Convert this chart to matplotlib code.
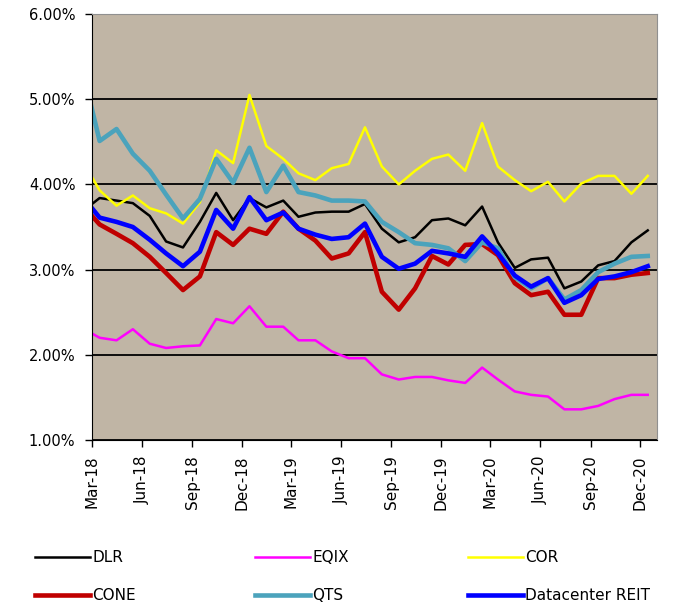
import matplotlib
matplotlib.use('Agg')
import matplotlib.pyplot as plt
import matplotlib.dates as mdates
import pandas as pd

# monthly dividend yields (%), Feb-18 .. Dec-20 (Feb-18 only shows as the clipped start)
months = pd.date_range('2018-02-01', '2020-12-01', freq='MS') + pd.Timedelta(days=14)

dlr = [3.70, 3.84, 3.81, 3.78, 3.63, 3.33, 3.26, 3.56, 3.90, 3.58, 3.84,
       3.73, 3.81, 3.62, 3.67, 3.68, 3.68, 3.77, 3.48, 3.32, 3.38, 3.58, 3.60,
       3.52, 3.74, 3.32, 3.02, 3.12, 3.14, 2.78, 2.86, 3.05, 3.10, 3.32, 3.46]
eqix = [2.30, 2.20, 2.17, 2.30, 2.13, 2.08, 2.10, 2.11, 2.42, 2.37, 2.57,
        2.33, 2.33, 2.17, 2.17, 2.04, 1.96, 1.96, 1.77, 1.71, 1.74, 1.74, 1.70,
        1.67, 1.85, 1.71, 1.57, 1.53, 1.51, 1.36, 1.36, 1.40, 1.48, 1.53, 1.53]
cor = [4.24, 3.93, 3.75, 3.87, 3.72, 3.66, 3.54, 3.79, 4.40, 4.25, 5.05,
       4.45, 4.30, 4.13, 4.05, 4.19, 4.24, 4.67, 4.21, 4.00, 4.16, 4.30, 4.35,
       4.16, 4.72, 4.21, 4.05, 3.92, 4.03, 3.80, 4.01, 4.10, 4.10, 3.89, 4.10]
cone = [3.73, 3.53, 3.42, 3.31, 3.15, 2.96, 2.76, 2.92, 3.44, 3.29, 3.48,
        3.42, 3.68, 3.48, 3.34, 3.13, 3.19, 3.44, 2.74, 2.53, 2.78, 3.16, 3.06,
        3.29, 3.30, 3.17, 2.84, 2.70, 2.74, 2.47, 2.47, 2.90, 2.90, 2.94, 2.96]
qts = [5.25, 4.51, 4.65, 4.36, 4.16, 3.88, 3.60, 3.83, 4.30, 4.02, 4.43,
       3.91, 4.22, 3.91, 3.87, 3.81, 3.81, 3.80, 3.56, 3.44, 3.31, 3.29, 3.25,
       3.10, 3.32, 3.25, 2.91, 2.78, 2.90, 2.65, 2.76, 2.97, 3.07, 3.15, 3.16]
dc_reit = [3.83, 3.61, 3.56, 3.50, 3.35, 3.19, 3.04, 3.21, 3.70, 3.48, 3.85,
           3.58, 3.67, 3.48, 3.41, 3.36, 3.38, 3.54, 3.15, 3.01, 3.07, 3.22, 3.19,
           3.15, 3.39, 3.19, 2.93, 2.80, 2.90, 2.61, 2.70, 2.89, 2.92, 2.97, 3.04]

series = [('DLR', dlr, 'black', 1.8),
          ('EQIX', eqix, '#FF00FF', 1.8),
          ('COR', cor, '#FFFF00', 1.8),
          ('CONE', cone, '#C00000', 3.3),
          ('QTS', qts, '#4BA3BC', 3.3),
          ('Datacenter REIT', dc_reit, '#0000FF', 3.3)]

fig = plt.figure(figsize=(6.74, 6.09), dpi=100)
ax = fig.add_axes([92/674, 1-440/609, (657-92)/674, (440-14)/609])
ax.set_facecolor('#C0B5A5')

for name, vals, col, lw in series:
    ax.plot(months, vals, color=col, lw=lw, label=name)

ax.set_ylim(1, 6)
ax.set_yticks([1, 2, 3, 4, 5, 6])
ax.set_yticklabels(['%.2f%%' % v for v in [1, 2, 3, 4, 5, 6]], fontsize=10.5)
ax.yaxis.grid(True, color='black', lw=1.3)
ax.set_axisbelow(True)

ax.set_xlim(pd.Timestamp('2018-03-01'), pd.Timestamp('2021-01-01'))
ticks = pd.date_range('2018-03-01', '2020-12-01', freq='3MS')
ax.set_xticks(ticks)
ax.xaxis.set_major_formatter(mdates.DateFormatter('%b-%y'))
plt.setp(ax.get_xticklabels(), rotation=90, fontsize=11)
ax.tick_params(direction='out', length=5, width=1, color='black')
ax.tick_params(axis='x', pad=6)
ax.tick_params(axis='y', pad=7)

ax.spines['left'].set_color('black')
ax.spines['bottom'].set_color('black')
ax.spines['top'].set_color('#909090')
ax.spines['right'].set_color('#909090')

h, l = ax.get_legend_handles_labels()
order = [0, 3, 1, 4, 2, 5]
fig.legend([h[i] for i in order], [l[i] for i in order], ncol=3,
           loc='upper left', bbox_to_anchor=(35/674, 1-550/609),
           frameon=False, fontsize=11, borderpad=0, borderaxespad=0,
           handlelength=3.6, handletextpad=0.15, columnspacing=7.8,
           labelspacing=1.5)

fig.savefig('out.png', dpi=100)
